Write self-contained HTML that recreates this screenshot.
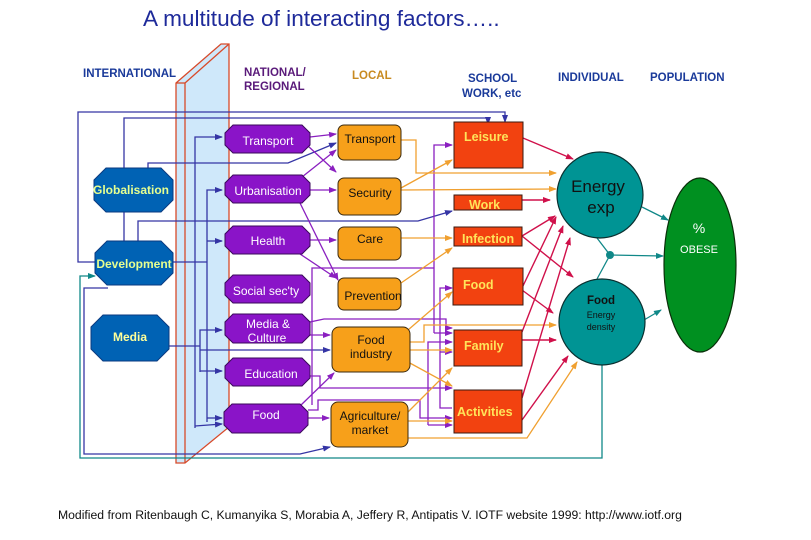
<!DOCTYPE html>
<html><head><meta charset="utf-8"><style>
html,body{margin:0;padding:0;background:#fff;width:811px;height:540px;overflow:hidden}
svg text{font-family:"Liberation Sans",Arial,sans-serif}
</style></head><body>
<svg width="811" height="540" viewBox="0 0 811 540" xmlns="http://www.w3.org/2000/svg">
<defs>
<marker id="an" markerWidth="8" markerHeight="8" refX="7" refY="4" orient="auto" markerUnits="userSpaceOnUse"><path d="M0,1 L8,4 L0,7 Z" fill="#3535a5"/></marker>
<marker id="ap" markerWidth="8" markerHeight="8" refX="7" refY="4" orient="auto" markerUnits="userSpaceOnUse"><path d="M0,1 L8,4 L0,7 Z" fill="#8a1fc0"/></marker>
<marker id="ao" markerWidth="8" markerHeight="8" refX="7" refY="4" orient="auto" markerUnits="userSpaceOnUse"><path d="M0,1 L8,4 L0,7 Z" fill="#f0a030"/></marker>
<marker id="ar" markerWidth="8" markerHeight="8" refX="7" refY="4" orient="auto" markerUnits="userSpaceOnUse"><path d="M0,1 L8,4 L0,7 Z" fill="#d0104a"/></marker>
<marker id="at" markerWidth="8" markerHeight="8" refX="7" refY="4" orient="auto" markerUnits="userSpaceOnUse"><path d="M0,1 L8,4 L0,7 Z" fill="#108888"/></marker>
</defs>

<text x="143" y="26" font-size="22.6" fill="#1e2a9a">A multitude of interacting factors…..</text>

<g font-size="11.5" font-weight="bold">
<text x="83" y="77" fill="#1a3a9a">INTERNATIONAL</text>
<text x="244" y="76" fill="#5a1a7a">NATIONAL/</text>
<text x="244" y="90" fill="#5a1a7a">REGIONAL</text>
<text x="352" y="79" fill="#c88a20">LOCAL</text>
<text x="468" y="82" fill="#1a3a9a">SCHOOL</text>
<text x="462" y="97" fill="#1a3a9a">WORK, etc</text>
<text x="558" y="81" fill="#1a3a9a">INDIVIDUAL</text>
<text x="650" y="81" fill="#1a3a9a">POPULATION</text>
</g>

<!-- slab -->
<polygon points="176,83 221,44 229,44 229,427 185,463 176,463" fill="#cfe8fa" stroke="#d84a2a" stroke-width="1.3"/>
<line x1="185" y1="83" x2="185" y2="463" stroke="#d84a2a" stroke-width="1.3"/>
<line x1="176" y1="83" x2="185" y2="83" stroke="#d84a2a" stroke-width="1.3"/>
<line x1="185" y1="83" x2="229" y2="44" stroke="#d84a2a" stroke-width="1.3"/>

<!-- teal loop -->
<g fill="none" stroke="#108888" stroke-width="1.3">
<polyline points="602,365 602,458 80,458 80,276 95,276" marker-end="url(#at)"/>
<line x1="642" y1="207" x2="668" y2="220" marker-end="url(#at)"/>
<line x1="597" y1="238" x2="610" y2="255"/>
<line x1="597" y1="279" x2="610" y2="255"/>
<line x1="610" y1="255" x2="663" y2="256" marker-end="url(#at)"/>
<line x1="644" y1="320" x2="661" y2="310" marker-end="url(#at)"/>
</g>
<circle cx="610" cy="255" r="4" fill="#108888"/>

<!-- navy lines -->
<g fill="none" stroke="#3535a5" stroke-width="1.3">
<polyline points="100,262 78,262 78,112 505,112 505,122" marker-end="url(#an)"/>
<polyline points="124,168 124,118 488,118 488,124" marker-end="url(#an)"/>
<line x1="124" y1="212" x2="124" y2="241"/>
<polyline points="148,168 148,163 288,163 336,143" marker-end="url(#an)"/>
<polyline points="138,241 138,221 418,221 452,211" marker-end="url(#an)"/>
<polyline points="195,428 195,137 222,137" marker-end="url(#an)"/>
<polyline points="207,422 207,190 222,190" marker-end="url(#an)"/>
<line x1="207" y1="241" x2="222" y2="241" marker-end="url(#an)"/>
<line x1="173" y1="262" x2="207" y2="262"/>
<polyline points="200,372 200,330 222,330" marker-end="url(#an)"/>
<line x1="200" y1="371" x2="222" y2="371" marker-end="url(#an)"/>
<line x1="169" y1="346" x2="200" y2="346"/>
<line x1="200" y1="350" x2="330" y2="350" marker-end="url(#an)"/>
<line x1="207" y1="418" x2="222" y2="418" marker-end="url(#an)"/>
<line x1="195" y1="426" x2="222" y2="424" marker-end="url(#an)"/>
<polyline points="108,288 84,288 84,454 300,454 330,447" marker-end="url(#an)"/>
</g>

<!-- purple lines -->
<g fill="none" stroke="#8a1fc0" stroke-width="1.3">
<line x1="310" y1="137" x2="336" y2="134" marker-end="url(#ap)"/>
<line x1="308" y1="146" x2="336" y2="172" marker-end="url(#ap)"/>
<line x1="302" y1="177" x2="336" y2="150" marker-end="url(#ap)"/>
<line x1="310" y1="190" x2="336" y2="190" marker-end="url(#ap)"/>
<line x1="300" y1="203" x2="338" y2="280" marker-end="url(#ap)"/>
<line x1="310" y1="240" x2="336" y2="240" marker-end="url(#ap)"/>
<line x1="300" y1="254" x2="336" y2="278" marker-end="url(#ap)"/>
<line x1="310" y1="335" x2="330" y2="335" marker-end="url(#ap)"/>
<line x1="300" y1="406" x2="334" y2="373" marker-end="url(#ap)"/>
<line x1="308" y1="418" x2="329" y2="418" marker-end="url(#ap)"/>
<polyline points="312,405 312,268 434,268"/>
<polyline points="434,333 434,145 452,145" marker-end="url(#ap)"/>
<line x1="434" y1="333" x2="452" y2="333" marker-end="url(#ap)"/>
<polyline points="452,408 440,408 440,288 452,288" marker-end="url(#ap)"/>
<line x1="440" y1="352" x2="452" y2="352" marker-end="url(#ap)"/>
<polyline points="428,425 428,342 452,342" marker-end="url(#ap)"/>
<line x1="428" y1="425" x2="452" y2="425" marker-end="url(#ap)"/>
<polyline points="310,322 324,319 446,319 446,328 452,328" marker-end="url(#ap)"/>
<polyline points="310,376 320,376 320,388 452,388" marker-end="url(#ap)"/>
<polyline points="308,410 318,410 318,400 420,400 420,418 452,418" marker-end="url(#ap)"/>
</g>

<!-- orange lines -->
<g fill="none" stroke="#f0a030" stroke-width="1.3">
<polyline points="401,140 416,140 416,173 556,173" marker-end="url(#ao)"/>
<line x1="401" y1="188" x2="452" y2="160" marker-end="url(#ao)"/>
<line x1="401" y1="190" x2="556" y2="189" marker-end="url(#ao)"/>
<line x1="401" y1="238" x2="452" y2="238" marker-end="url(#ao)"/>
<line x1="401" y1="283" x2="452" y2="248" marker-end="url(#ao)"/>
<line x1="408" y1="330" x2="452" y2="292" marker-end="url(#ao)"/>
<polyline points="410,342 424,342 424,325 556,325" marker-end="url(#ao)"/>
<line x1="410" y1="350" x2="452" y2="350" marker-end="url(#ao)"/>
<line x1="408" y1="362" x2="452" y2="386" marker-end="url(#ao)"/>
<line x1="408" y1="412" x2="452" y2="368" marker-end="url(#ao)"/>
<line x1="408" y1="421" x2="452" y2="421" marker-end="url(#ao)"/>
<polyline points="408,438 527,438 577,362" marker-end="url(#ao)"/>
</g>

<!-- crimson lines -->
<g fill="none" stroke="#d0104a" stroke-width="1.4">
<line x1="523" y1="138" x2="573" y2="159" marker-end="url(#ar)"/>
<line x1="522" y1="200" x2="550" y2="200" marker-end="url(#ar)"/>
<line x1="522" y1="236" x2="555" y2="216" marker-end="url(#ar)"/>
<line x1="522" y1="236" x2="573" y2="277" marker-end="url(#ar)"/>
<line x1="522" y1="288" x2="556" y2="217" marker-end="url(#ar)"/>
<line x1="522" y1="290" x2="553" y2="313" marker-end="url(#ar)"/>
<line x1="522" y1="332" x2="563" y2="226" marker-end="url(#ar)"/>
<line x1="522" y1="340" x2="556" y2="340" marker-end="url(#ar)"/>
<line x1="522" y1="398" x2="570" y2="238" marker-end="url(#ar)"/>
<line x1="522" y1="420" x2="568" y2="356" marker-end="url(#ar)"/>
</g>

<!-- blue octagons -->
<g fill="#0062b4" stroke="#0a3a80" stroke-width="1">
<polygon points="106,168 161,168 173,180 173,200 161,212 106,212 94,200 94,180"/>
<polygon points="107,241 161,241 173,253 173,273 161,285 107,285 95,273 95,253"/>
<polygon points="103,315 157,315 169,327 169,349 157,361 103,361 91,349 91,327"/>
</g>
<g font-size="12" fill="#e6ff90" text-anchor="middle" font-weight="bold">
<text x="131" y="194">Globalisation</text>
<text x="134" y="268">Development</text>
<text x="130" y="341" fill="#ffff9a">Media</text>
</g>

<!-- purple octagons -->
<g fill="#8a14c8" stroke="#3a0a5a" stroke-width="1">
<polygon points="233,125 302,125 310,133 310,145 302,153 233,153 225,145 225,133"/>
<polygon points="233,175 302,175 310,183 310,195 302,203 233,203 225,195 225,183"/>
<polygon points="233,226 302,226 310,234 310,246 302,254 233,254 225,246 225,234"/>
<polygon points="233,275 302,275 310,283 310,295 302,303 233,303 225,295 225,283"/>
<polygon points="233,314 302,314 310,322 310,335 302,343 233,343 225,335 225,322"/>
<polygon points="233,358 302,358 310,366 310,378 302,386 233,386 225,378 225,366"/>
<polygon points="232,404 300,404 308,412 308,425 300,433 232,433 224,425 224,412"/>
</g>
<g font-size="12" fill="#fff" text-anchor="middle">
<text x="268" y="145">Transport</text>
<text x="268" y="195">Urbanisation</text>
<text x="268" y="245">Health</text>
<text x="266" y="295">Social sec'ty</text>
<text x="268" y="328">Media &amp;</text>
<text x="267" y="342">Culture</text>
<text x="271" y="378">Education</text>
<text x="266" y="419">Food</text>
</g>

<!-- orange boxes -->
<g fill="#f7a01a" stroke="#3a2a10" stroke-width="1">
<rect x="338" y="125" width="63" height="35" rx="6"/>
<rect x="338" y="178" width="63" height="37" rx="6"/>
<rect x="338" y="227" width="63" height="33" rx="6"/>
<rect x="338" y="278" width="63" height="32" rx="6"/>
<rect x="332" y="327" width="78" height="45" rx="7"/>
<rect x="331" y="402" width="77" height="45" rx="7"/>
</g>
<g font-size="12" fill="#111" text-anchor="middle">
<text x="370" y="143">Transport</text>
<text x="370" y="197">Security</text>
<text x="370" y="243">Care</text>
<text x="373" y="300">Prevention</text>
<text x="371" y="344">Food</text>
<text x="371" y="358">industry</text>
<text x="370" y="420">Agriculture/</text>
<text x="370" y="434">market</text>
</g>

<!-- red boxes -->
<g fill="#f24210" stroke="#3a1a10" stroke-width="1">
<rect x="454" y="122" width="69" height="46"/>
<rect x="454" y="195" width="68" height="15"/>
<rect x="454" y="227" width="68" height="19"/>
<rect x="453" y="268" width="70" height="37"/>
<rect x="454" y="330" width="68" height="36"/>
<rect x="454" y="390" width="68" height="43"/>
</g>
<g font-size="12.5" fill="#ffe45a" font-weight="bold">
<text x="464" y="141">Leisure</text>
<text x="469" y="209">Work</text>
<text x="462" y="243">Infection</text>
<text x="463" y="289">Food</text>
<text x="464" y="350">Family</text>
<text x="457" y="416">Activities</text>
</g>

<!-- circles -->
<circle cx="600" cy="195" r="43" fill="#009494" stroke="#0a3030" stroke-width="1.2"/>
<circle cx="602" cy="322" r="43" fill="#009494" stroke="#0a3030" stroke-width="1.2"/>
<ellipse cx="700" cy="265" rx="36" ry="87" fill="#009020" stroke="#0a300a" stroke-width="1.2"/>
<g text-anchor="middle" fill="#111">
<text x="598" y="192" font-size="17">Energy</text>
<text x="601" y="213" font-size="17">exp</text>
<text x="601" y="304" font-size="11.5" font-weight="bold">Food</text>
<text x="601" y="318" font-size="9">Energy</text>
<text x="601" y="330" font-size="9">density</text>
</g>
<g text-anchor="middle" fill="#fff">
<text x="699" y="233" font-size="14">%</text>
<text x="699" y="253" font-size="11">OBESE</text>
</g>

<text x="58" y="519" font-size="12.2" fill="#111">Modified from Ritenbaugh C,  Kumanyika S,  Morabia A,  Jeffery R, Antipatis V. IOTF website 1999: http://www.iotf.org</text>
</svg>
</body></html>
